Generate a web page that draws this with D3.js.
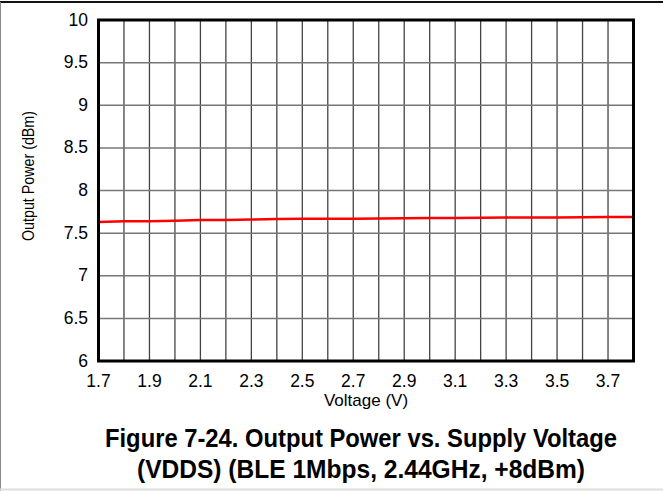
<!DOCTYPE html>
<html>
<head>
<meta charset="utf-8">
<script src="https://cdn.jsdelivr.net/npm/d3@7"></script>
<style>
  body { margin: 0; background: #fff; }
  text { font-family: "Liberation Sans", Arial, sans-serif; }
</style>
</head>
<body>
<div id="chart"></div>
<script>
const voltage = [1.7, 1.8, 1.9, 2.0, 2.1, 2.2, 2.3, 2.4, 2.5, 2.6, 2.7, 2.8, 2.9, 3.0, 3.1, 3.2, 3.3, 3.4, 3.5, 3.6, 3.7, 3.8];
const power = [7.63, 7.64, 7.64, 7.645, 7.655, 7.655, 7.66, 7.665, 7.67, 7.67, 7.67, 7.672, 7.675, 7.678, 7.678, 7.68, 7.682, 7.682, 7.684, 7.685, 7.688, 7.69];
const x_ticks = [1.7, 1.9, 2.1, 2.3, 2.5, 2.7, 2.9, 3.1, 3.3, 3.5, 3.7];
const y_ticks = [6, 6.5, 7, 7.5, 8, 8.5, 9, 9.5, 10];
const title_lines = ['Figure 7-24. Output Power vs. Supply Voltage', '(VDDS) (BLE 1Mbps, 2.44GHz, +8dBm)'];

const chart_width = 663;
const chart_height = 491;
const plot = { left: 98.5, right: 633.5, top: 20, bottom: 361 };

const svg = d3.select('#chart')
    .append('svg')
    .attr('width', chart_width)
    .attr('height', chart_height);

// page frame
svg.append('line').attr('x1', 0).attr('x2', chart_width).attr('y1', 2).attr('y2', 2)
    .attr('stroke', '#111').attr('stroke-width', 2);
svg.append('line').attr('x1', 0.5).attr('x2', 0.5).attr('y1', 2).attr('y2', chart_height)
    .attr('stroke', '#888').attr('stroke-width', 1);
svg.append('line').attr('x1', 0).attr('x2', chart_width).attr('y1', 489.5).attr('y2', 489.5)
    .attr('stroke', '#ddd').attr('stroke-width', 2);

const x_scale = d3.scaleLinear()
    .domain([1.7, 3.8])
    .range([plot.left, plot.right]);

const y_scale = d3.scaleLinear()
    .domain([6, 10])
    .range([plot.bottom, plot.top]);

// grid
svg.append('g')
    .selectAll('line')
    .data(d3.range(1, 21).map(i => 1.7 + i * 0.1))
    .enter()
    .append('line')
    .attr('x1', d => x_scale(d))
    .attr('x2', d => x_scale(d))
    .attr('y1', plot.top)
    .attr('y2', plot.bottom)
    .attr('stroke', '#444')
    .attr('stroke-width', 1.3);

svg.append('g')
    .selectAll('line')
    .data(y_ticks.slice(1, -1))
    .enter()
    .append('line')
    .attr('x1', plot.left)
    .attr('x2', plot.right)
    .attr('y1', d => y_scale(d))
    .attr('y2', d => y_scale(d))
    .attr('stroke', '#777')
    .attr('stroke-width', 1.5);

// data line
svg.append('path')
    .datum(voltage.map((v, i) => [v, power[i]]))
    .attr('d', d3.line().x(d => x_scale(d[0])).y(d => y_scale(d[1])))
    .attr('fill', 'none')
    .attr('stroke', '#ff0000')
    .attr('stroke-width', 2.5);

// plot frame
svg.append('rect')
    .attr('x', plot.left)
    .attr('y', plot.top)
    .attr('width', plot.right - plot.left)
    .attr('height', plot.bottom - plot.top)
    .attr('fill', 'none')
    .attr('stroke', '#000')
    .attr('stroke-width', 3);

// tick labels
svg.append('g')
    .selectAll('text')
    .data(y_ticks)
    .enter()
    .append('text')
    .text(d => d)
    .attr('x', 88)
    .attr('y', d => y_scale(d) + 5.5)
    .attr('text-anchor', 'end')
    .attr('font-size', 17.5)
    .attr('fill', '#000');

svg.append('g')
    .selectAll('text')
    .data(x_ticks)
    .enter()
    .append('text')
    .text(d => d.toFixed(1))
    .attr('x', d => x_scale(d))
    .attr('y', 387)
    .attr('text-anchor', 'middle')
    .attr('font-size', 17.5)
    .attr('fill', '#000');

// axis titles
svg.append('text')
    .text('Voltage (V)')
    .attr('x', 366)
    .attr('y', 406)
    .attr('text-anchor', 'middle')
    .attr('font-size', 17);

svg.append('text')
    .text('Output Power (dBm)')
    .attr('transform', 'translate(34,176) rotate(-90)')
    .attr('text-anchor', 'middle')
    .attr('font-size', 16.5)
    .attr('textLength', 130)
    .attr('lengthAdjust', 'spacingAndGlyphs');

// figure caption
svg.append('g')
    .selectAll('text')
    .data(title_lines)
    .enter()
    .append('text')
    .text(d => d)
    .attr('x', 361)
    .attr('y', (d, i) => 447 + i * 31)
    .attr('text-anchor', 'middle')
    .attr('font-size', 25)
    .attr('font-weight', 'bold')
    .attr('textLength', (d, i) => i === 0 ? 512 : 448)
    .attr('lengthAdjust', 'spacingAndGlyphs')
    .attr('fill', '#000');
</script>
</body>
</html>
